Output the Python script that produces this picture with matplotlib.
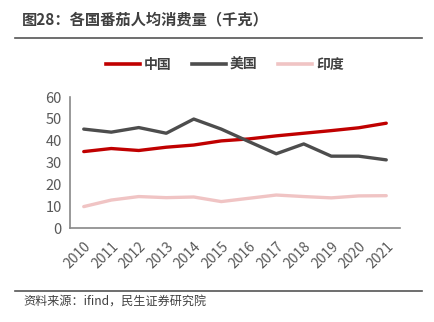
import matplotlib
matplotlib.use("Agg")
import matplotlib.pyplot as plt
from matplotlib.lines import Line2D

plt.rcParams['font.family'] = ['Noto Sans CJK SC', 'DejaVu Sans']

years = ['2010', '2011', '2012', '2013', '2014', '2015', '2016', '2017', '2018', '2019', '2020', '2021']
china = [35.0, 36.4, 35.5, 37.0, 38.0, 39.9, 40.8, 42.2, 43.4, 44.6, 45.9, 48.0]
usa = [45.3, 43.9, 46.0, 43.4, 49.9, 45.3, 39.6, 34.0, 38.5, 32.9, 32.9, 31.2]
india = [9.8, 12.8, 14.4, 13.9, 14.2, 12.1, 13.6, 15.1, 14.4, 13.8, 14.7, 14.8]
series_names = ['中国', '美国', '印度']
colors = ['#C00000', '#4D4D4D', '#F0C4C4']

fig = plt.figure(figsize=(4.35, 3.22), dpi=100)
ax = fig.add_axes([70 / 435, 1 - 228 / 322, 330 / 435, 131 / 322])

x = list(range(len(years)))
for vals, c in zip([china, usa, india], colors):
    ax.plot(x, vals, color=c, lw=2.4, solid_capstyle='round', solid_joinstyle='round')

ax.set_xlim(-0.5, len(years) - 0.5)
ax.set_ylim(0, 60)
ax.set_yticks(range(0, 61, 10))
ax.set_xticks(x)
ax.set_xticklabels(years, rotation=45, ha='right', rotation_mode='anchor')
ax.tick_params(axis='both', length=0, labelcolor='#595959')
ax.tick_params(axis='y', labelsize=10.5, pad=6)
ax.tick_params(axis='x', labelsize=10, pad=8)
for s in ['top', 'right']:
    ax.spines[s].set_visible(False)
for s in ['left', 'bottom']:
    ax.spines[s].set_color('#888888')
    ax.spines[s].set_linewidth(1.2)

handles = [Line2D([0], [0], color=c, lw=2.6) for c in colors]
leg = fig.legend(handles, series_names, loc='center', bbox_to_anchor=(225 / 435, 1 - 65 / 322),
                 ncol=3, frameon=False, handlelength=2.4, handletextpad=0.3, columnspacing=1.5,
                 prop={'size': 10, 'weight': 'bold'})
for t in leg.get_texts():
    t.set_color('#404040')

fig.text(22 / 435, 1 - 19 / 322, '图28：各国番茄人均消费量（千克）', fontsize=11, fontweight='bold',
         color='#404040', va='center', ha='left')
fig.add_artist(Line2D([15 / 435, 422 / 435], [1 - 38 / 322, 1 - 38 / 322], color='#555555', lw=1.2))
fig.add_artist(Line2D([15 / 435, 422 / 435], [1 - 291 / 322, 1 - 291 / 322], color='#555555', lw=1.2))
fig.text(23 / 435, 1 - 302 / 322, '资料来源：ifind，民生证券研究院', fontsize=8.7, color='#404040',
         va='center', ha='left')

fig.savefig('out.png', dpi=100)
